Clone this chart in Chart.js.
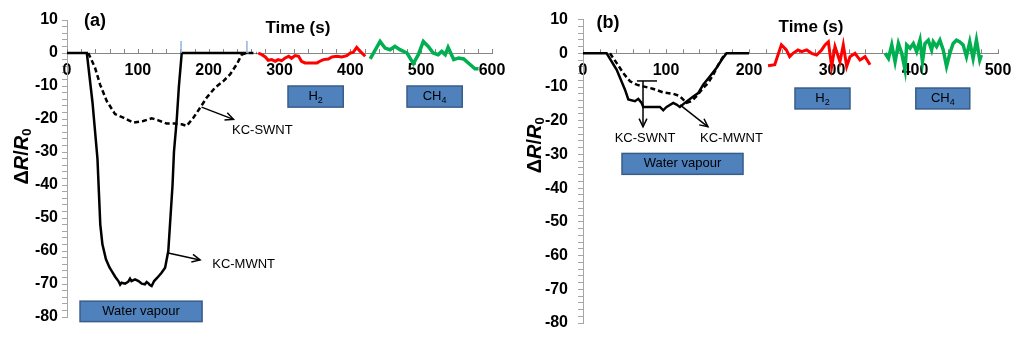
<!DOCTYPE html>
<html>
<head>
<meta charset="utf-8">
<script src="https://cdn.jsdelivr.net/npm/chart.js@4.4.1/dist/chart.umd.min.js"></script>
<style>
html, body { margin: 0; padding: 0; background: #fff; }
#wrap { position: relative; width: 1024px; height: 354px; }
#chartA { position: absolute; left: 0; top: 0; }
#chartB { position: absolute; left: 510px; top: 0; }
</style>
</head>
<body>
<div id="wrap">
  <canvas id="chartA" width="510" height="354"></canvas>
  <canvas id="chartB" width="514" height="354"></canvas>
</div>
<script>
// ---- panel (a) data ----
var timeA_MWNT = [0, 28, 36, 43, 45, 47, 50, 55, 60, 63, 68, 72.5, 75, 77, 82, 86.5, 89, 91, 96, 101, 105.5, 110, 112.5, 115, 117, 119.5, 123, 127.5, 133.5, 138.5, 143, 146, 149, 151, 155, 158, 162, 255];
var valueA_MWNT = [0, 0, -15, -32, -42, -52, -58, -62.5, -65, -66, -67.8, -69.1, -70.2, -69.6, -69.9, -69.3, -68.4, -69.1, -68.6, -69.1, -69.9, -70.1, -69.4, -69.8, -70.3, -70.6, -69.1, -68.1, -66.6, -65.1, -60, -50, -40, -30, -20, -10, 0, 0];

var timeA_SWNT = [30, 39.5, 46.6, 56, 67.8, 79.5, 93.6, 107.8, 119.6, 129, 140.8, 152.5, 162, 169, 178.4, 187.9, 197.3, 209, 220.8, 230.2, 239.7, 246.7, 253.8, 268];
var valueA_SWNT = [0, -4.4, -9.5, -14.5, -18.5, -19.6, -21.1, -20.6, -19.8, -20.4, -21.4, -21.4, -21.6, -22.1, -19.6, -16.6, -13.5, -10.5, -8.5, -6.5, -3.4, -0.5, 0, 0];

var timeA_H2 = [270, 275, 280, 284, 289, 294, 298, 303, 308, 313, 317, 322, 327, 331, 336, 343, 353, 357, 362, 369, 374, 381, 388, 395, 400, 404, 409, 414, 421];
var valueA_H2 = [0, -0.5, -1.2, -2.2, -2, -2.5, -2, -2.3, -1.5, -1, -1.6, -0.8, -1, -2.5, -3, -3, -3, -2.5, -2, -1.8, -1.2, -1, -1.2, -0.8, 0, 0.2, 1.7, 0.5, -1];

var timeA_CH4 = [428, 442, 449, 456, 463, 470, 480, 489, 496, 503, 510, 517, 524, 529, 534, 538, 546, 553, 560, 569, 576, 581];
var valueA_CH4 = [-1.8, 3.5, 1.5, 1, 2, 1, 0, -3.2, -0.5, 3.5, 2, 0, -0.5, 0.5, -0.5, 1.7, -2, -1.5, -1.8, -3.5, -4.8, -4.8];

// ---- panel (b) data ----
var timeB_MWNT = [0, 28.5, 40.6, 50.6, 54.6, 62.6, 66.6, 70.6, 72.6, 80, 92.7, 96.7, 100.7, 108.7, 112.7, 116.7, 122.7, 130.8, 138.8, 144.8, 152.8, 160.8, 166.9, 172.9, 200];
var valueB_MWNT = [0, 0, -4.9, -10.8, -13.7, -14.2, -13.5, -14.7, -15.9, -15.9, -15.9, -16.9, -15.9, -14.7, -15.2, -15.9, -14.7, -13.2, -11.8, -9.3, -6.9, -4.4, -2, 0, 0];

var timeB_SWNT = [32.5, 40.6, 48.6, 56.6, 64.7, 72.6, 84, 96.7, 108.7, 116.7, 124.7, 130.8, 136.8, 144.8, 150.8, 156.8, 162.9, 168.9, 172];
var valueB_SWNT = [0, -2.9, -5.9, -8.3, -9.3, -9.8, -10.5, -11.6, -12, -12.7, -14.7, -14.2, -12.7, -10.3, -8.8, -6.4, -3.4, -1, 0];

var timeB_H2 = [223, 231, 239, 245, 249, 253, 259, 263.5, 269.5, 275.5, 281.5, 287.5, 291.6, 295.6, 299.6, 303.6, 309.6, 313.6, 317.7, 321.7, 327.7, 333.7, 339.8, 345.8];
var valueB_H2 = [-3.7, -3.4, 2.5, 1, -1, 0, 1, 0.5, 1, 0, -0.5, 1, 2.5, 3.4, -3.9, 2, -2.5, 2.5, -3.9, -1, 0, -2, -1, -3.4];

var timeB_CH4 = [364, 368, 372, 376, 380, 384, 388, 390, 394, 398, 402, 406, 409, 412, 416, 420, 422, 426, 430, 434, 438, 442, 446, 450, 454, 458, 462, 466, 470, 474, 478, 480];
var valueB_CH4 = [0, -1.5, 2.5, -2.5, 2.9, 0, -4.9, 2.5, 1.5, 2.9, 0.5, 3.9, -2.5, 2.9, 3.9, 1, 3.4, 2, 3.9, 1, -3.9, 0, 2.9, 3.9, 3.4, 2.5, -1, 3.4, -1.5, 3.9, -2, -0.5];

// axis ranges / ticks
var yMin = -80, yMax = 10, yStep = 2, yLabelStep = 10;
var xMaxA = 600, xMaxB = 500, xStep = 20, xLabelStep = 100;

var FONT = "'Liberation Sans', Arial, sans-serif";

function pts(xs, ys) {
    return xs.map(function (x, i) { return { x: x, y: ys[i] }; });
}

function makeDatasets(mT, mV, sT, sV, hT, hV, cT, cV) {
    return [
        { label: 'KC-MWNT', data: pts(mT, mV), borderColor: '#000', borderWidth: 2.5 },
        { label: 'KC-SWNT', data: pts(sT, sV), borderColor: '#000', borderWidth: 2.5, borderDash: [5, 3] },
        { label: 'H2', data: pts(hT, hV), borderColor: '#ff0000', borderWidth: 3 },
        { label: 'CH4', data: pts(cT, cV), borderColor: '#00b050', borderWidth: 3.5 }
    ];
}

// annotations (in data units)
var notesA = {
    titleOffset: 45,
    titleShift: -12,
    boxes: [
        { x0: 312, x1: 390, y0: -10, y1: -16.4, text: 'H', sub: '2' },
        { x0: 480, x1: 558, y0: -10, y1: -16.4, text: 'CH', sub: '4' },
        { x0: 18.4, x1: 190.7, y0: -75.2, y1: -81.4, text: 'Water vapour' }
    ],
    arrows: [
        { x0: 190, y0: -16.4, x1: 235, y1: -20.1, head: true },
        { x0: 142.7, y0: -60.6, x1: 187.9, y1: -62.7, head: true }
    ],
    texts: [
        { x: 233, y: -23.4, text: 'KC-SWNT', align: 'left' },
        { x: 205, y: -64, text: 'KC-MWNT', align: 'left' },
        { x: 39.5, y: 9.7, text: '(a)', align: 'center', bold: 18 },
        { x: 326, y: 7.6, text: 'Time (s)', align: 'center', bold: 17 }
    ],
    marks: [161, 254]
};

var notesB = {
    titleOffset: 48,
    titleShift: -26,
    boxes: [
        { x0: 255.4, x1: 321.7, y0: -10.3, y1: -16.5, text: 'H', sub: '2' },
        { x0: 401, x1: 466, y0: -10.3, y1: -16.5, text: 'CH', sub: '4' },
        { x0: 47, x1: 192.8, y0: -29.7, y1: -35.9, text: 'Water vapour' }
    ],
    arrows: [
        { x0: 65, y0: -8.2, x1: 89.2, y1: -8.2, head: false },
        { x0: 72.3, y0: -8.2, x1: 72.3, y1: -21.8, head: true },
        { x0: 116.9, y0: -15.3, x1: 150.6, y1: -21.8, head: true }
    ],
    texts: [
        { x: 74.7, y: -25.3, text: 'KC-SWNT', align: 'center' },
        { x: 141, y: -25.3, text: 'KC-MWNT', align: 'left' },
        { x: 30, y: 9.1, text: '(b)', align: 'center', bold: 18 },
        { x: 274.7, y: 7.6, text: 'Time (s)', align: 'center', bold: 17 }
    ],
    marks: []
};

function drawSubText(ctx, text, sub, cx, cy) {
    ctx.font = '13px ' + FONT;
    var w1 = ctx.measureText(text).width;
    ctx.font = '9px ' + FONT;
    var w2 = sub ? ctx.measureText(sub).width : 0;
    var left = cx - (w1 + w2) / 2;
    ctx.textAlign = 'left';
    ctx.textBaseline = 'middle';
    ctx.fillStyle = '#000';
    ctx.font = '13px ' + FONT;
    ctx.fillText(text, left, cy);
    if (sub) {
        ctx.font = '9px ' + FONT;
        ctx.fillText(sub, left + w1, cy + 4);
    }
}

var notesPlugin = {
    id: 'notes',
    beforeDatasetsDraw: function (chart) {
        // small upward tick marks on the x axis
        var ctx = chart.ctx, xs = chart.scales.x, ys = chart.scales.y;
        var y0 = ys.getPixelForValue(0);
        ctx.save();
        ctx.strokeStyle = '#868686';
        ctx.lineWidth = 1;
        xs.ticks.forEach(function (t) {
            var px = Math.round(xs.getPixelForValue(t.value)) + 0.5;
            ctx.beginPath();
            ctx.moveTo(px, y0);
            ctx.lineTo(px, y0 - 4);
            ctx.stroke();
        });
        ctx.restore();
    },
    afterDraw: function (chart) {
        var n = chart.options.plugins.notes.cfg;
        var ctx = chart.ctx, xs = chart.scales.x, ys = chart.scales.y;
        var X = function (v) { return xs.getPixelForValue(v); };
        var Y = function (v) { return ys.getPixelForValue(v); };
        ctx.save();

        // blue marker ticks
        ctx.strokeStyle = '#8eb4e3';
        ctx.lineWidth = 1.5;
        n.marks.forEach(function (m) {
            ctx.beginPath();
            ctx.moveTo(X(m), Y(0));
            ctx.lineTo(X(m), Y(3.6));
            ctx.stroke();
        });

        // boxes
        n.boxes.forEach(function (b) {
            var x = X(b.x0), y = Y(b.y0), w = X(b.x1) - x, h = Y(b.y1) - y;
            ctx.fillStyle = '#4f81bd';
            ctx.fillRect(x, y, w, h);
            ctx.strokeStyle = '#385d8a';
            ctx.lineWidth = 1.5;
            ctx.strokeRect(x, y, w, h);
            drawSubText(ctx, b.text, b.sub, x + w / 2, y + h / 2);
        });

        // arrows
        ctx.strokeStyle = '#000';
        ctx.lineWidth = 1.5;
        n.arrows.forEach(function (a) {
            var x0 = X(a.x0), y0 = Y(a.y0), x1 = X(a.x1), y1 = Y(a.y1);
            ctx.beginPath();
            ctx.moveTo(x0, y0);
            ctx.lineTo(x1, y1);
            ctx.stroke();
            if (a.head) {
                var ang = Math.atan2(y1 - y0, x1 - x0), L = 9;
                ctx.beginPath();
                ctx.moveTo(x1 - L * Math.cos(ang - 0.45), y1 - L * Math.sin(ang - 0.45));
                ctx.lineTo(x1, y1);
                ctx.lineTo(x1 - L * Math.cos(ang + 0.45), y1 - L * Math.sin(ang + 0.45));
                ctx.stroke();
            }
        });

        // texts
        ctx.fillStyle = '#000';
        ctx.textBaseline = 'middle';
        n.texts.forEach(function (t) {
            ctx.font = t.bold ? 'bold ' + t.bold + 'px ' + FONT : '13px ' + FONT;
            ctx.textAlign = t.align;
            ctx.fillText(t.text, X(t.x), Y(t.y));
        });

        // y axis title: ΔR/R0
        var area = chart.chartArea;
        ctx.translate(area.left - n.titleOffset, (area.top + area.bottom) / 2 + n.titleShift);
        ctx.rotate(-Math.PI / 2);
        var parts = [
            { s: '\u0394', f: 'bold 20px ' + FONT, dy: 0 },
            { s: 'R', f: 'italic bold 20px ' + FONT, dy: 0 },
            { s: '/', f: 'bold 20px ' + FONT, dy: 0 },
            { s: 'R', f: 'italic bold 20px ' + FONT, dy: 0 },
            { s: '0', f: 'bold 13px ' + FONT, dy: 5 }
        ];
        var total = 0;
        parts.forEach(function (p) { ctx.font = p.f; p.w = ctx.measureText(p.s).width; total += p.w; });
        var cx = -total / 2;
        ctx.textAlign = 'left';
        parts.forEach(function (p) {
            ctx.font = p.f;
            ctx.fillText(p.s, cx, p.dy);
            cx += p.w;
        });
        ctx.restore();
    }
};

function makeOptions(xMax, yWidth, yPad, pad, notes) {
    return {
        responsive: false,
        animation: false,
        layout: { padding: pad },
        elements: { point: { radius: 0 }, line: { tension: 0, fill: false } },
        plugins: { legend: { display: false }, tooltip: { enabled: false }, notes: { cfg: notes } },
        scales: {
            x: {
                type: 'linear',
                min: 0,
                max: xMax,
                position: { y: 0 },
                border: { display: true, color: '#868686', width: 1 },
                grid: { display: false },
                ticks: {
                    stepSize: xStep,
                    autoSkip: false,
                    maxRotation: 0,
                    padding: 0,
                    color: '#000',
                    font: { family: FONT, size: 16, weight: 'bold' },
                    callback: function (v) { return v % xLabelStep === 0 ? v : ''; }
                }
            },
            y: {
                min: yMin,
                max: yMax,
                border: { display: true, color: '#a6a6a6', width: 1 },
                grid: { display: true, drawOnChartArea: false, tickLength: 5, color: '#a6a6a6' },
                ticks: {
                    stepSize: yStep,
                    autoSkip: false,
                    padding: yPad,
                    color: '#000',
                    font: { family: FONT, size: 16, weight: 'bold' },
                    callback: function (v) { return v % yLabelStep === 0 ? v : ''; }
                },
                afterFit: function (s) { s.width = yWidth; }
            }
        }
    };
}

var chartA = new Chart(document.getElementById('chartA'), {
    type: 'line',
    data: { datasets: makeDatasets(timeA_MWNT, valueA_MWNT, timeA_SWNT, valueA_SWNT, timeA_H2, valueA_H2, timeA_CH4, valueA_CH4) },
    options: makeOptions(xMaxA, 67, 4, { top: 20, bottom: 37, left: 0, right: 18 }, notesA),
    plugins: [notesPlugin]
});

var chartB = new Chart(document.getElementById('chartB'), {
    type: 'line',
    data: { datasets: makeDatasets(timeB_MWNT, valueB_MWNT, timeB_SWNT, valueB_SWNT, timeB_H2, valueB_H2, timeB_CH4, valueB_CH4) },
    options: makeOptions(xMaxB, 73, 10, { top: 17, bottom: 31, left: 0, right: 26 }, notesB),
    plugins: [notesPlugin]
});
</script>
</body>
</html>
